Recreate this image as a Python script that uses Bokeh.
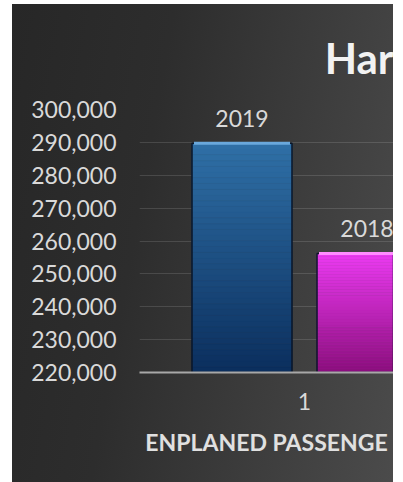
from bokeh.plotting import figure
from bokeh.models import (Range1d, SingleIntervalTicker, NumeralTickFormatter,
                          FixedTicker, InlineStyleSheet)
from bokeh.core.properties import value
from bokeh.embed import file_html
from bokeh.resources import INLINE

# ---- data ----
categories = ["1"]
series_names = ["2019", "2018"]
series_values = [289700, 256200]
series_top_colors = ["#2f6fa6", "#ea3af0"]
series_bottom_colors = ["#0b2f5e", "#8e0f80"]
series_highlight = ["#6aa8dc", "#ff8cff"]
y_start, y_end, y_step = 220000, 300000, 10000
title_text = "Har"
x_label_text = "ENPLANED PASSENGE"

FONT = "Lato"
TXT = "#d9d9d9"

W, H = 381, 478
p = figure(width=W, height=H, output_backend="svg", toolbar_location=None,
           x_range=Range1d(0.34, 1.356), y_range=Range1d(y_start, y_end),
           min_border_left=127, min_border_right=0, min_border_top=105,
           min_border_bottom=110)
p.margin = (4, 0, 0, 12)
p.background_fill_color = None
p.border_fill_color = None
p.outline_line_color = None
p.stylesheets = [InlineStyleSheet(css=":host { background: linear-gradient(100deg, #272727 0%, #2d2d2d 35%, #4b4b4b 100%); }")]

# title
p.title.text = title_text
p.title.align = "right"
p.title.text_font = FONT
p.title.text_font_style = "bold"
p.title.text_font_size = "42px"
p.title.text_color = "#f2f2f2"
p.title.standoff = 53

# bars with vertical gradient built from slices of each bar
offsets = [-0.25, 0.25]
bar_w = 0.4
N = 40

def mix(c1, c2, t):
    a = [int(c1[i:i+2], 16) for i in (1, 3, 5)]
    b = [int(c2[i:i+2], 16) for i in (1, 3, 5)]
    return "#%02x%02x%02x" % tuple(int(round(a[k] + (b[k] - a[k]) * t)) for k in range(3))

for s, (name, v) in enumerate(zip(series_names, series_values)):
    xc = 1 + offsets[s]
    bottoms, tops, cols = [], [], []
    for i in range(N):
        bottoms.append(y_start + (v - y_start) * i / N)
        tops.append(y_start + (v - y_start) * (i + 1) / N)
        cols.append(mix(series_bottom_colors[s], series_top_colors[s], i / (N - 1)))
    p.vbar(x=[xc] * N, width=bar_w, bottom=bottoms, top=tops, fill_color=cols,
           line_color=cols, line_width=0.5)
    p.vbar(x=[xc], width=bar_w, bottom=[y_start], top=[v], fill_color=None,
           line_color="#0a1628", line_width=1.5)
    p.segment(x0=[xc - bar_w / 2 + 0.008], x1=[xc + bar_w / 2 - 0.008], y0=[v], y1=[v],
              line_color=series_highlight[s], line_width=3)

p.text(x=[1 + o for o in offsets], y=series_values, text=series_names,
       text_font=value(FONT), text_font_size=value("23px"), text_color=TXT,
       text_align="center", text_baseline="alphabetic", y_offset=-25)

# axes
p.yaxis.ticker = SingleIntervalTicker(interval=y_step)
p.yaxis.formatter = NumeralTickFormatter(format="0,0")
p.yaxis.axis_line_color = None
p.yaxis.major_tick_out = 0
p.yaxis.major_tick_in = 0
p.yaxis.minor_tick_out = 0
p.yaxis.minor_tick_in = 0
p.yaxis.major_label_standoff = 23
p.yaxis.major_label_text_font = FONT
p.yaxis.major_label_text_font_size = "23px"
p.yaxis.major_label_text_color = TXT

p.xaxis.ticker = FixedTicker(ticks=[1])
p.xaxis.major_label_overrides = {1: categories[0]}
p.xaxis.axis_line_color = "#a8a8a8"
p.xaxis.axis_line_width = 2
p.xaxis.major_tick_out = 0
p.xaxis.major_tick_in = 0
p.xaxis.minor_tick_out = 0
p.xaxis.minor_tick_in = 0
p.xaxis.major_label_standoff = 20
p.xaxis.major_label_text_font = FONT
p.xaxis.major_label_text_font_size = "23px"
p.xaxis.major_label_text_color = TXT
p.xaxis.axis_label = x_label_text
p.xaxis.axis_label_text_font = FONT
p.xaxis.axis_label_text_font_style = "bold"
p.xaxis.axis_label_text_font_size = "23px"
p.xaxis.axis_label_text_color = "#e0e0e0"
p.xaxis.axis_label_standoff = 15

p.xgrid.grid_line_color = None
p.ygrid.grid_line_color = "#ffffff"
p.ygrid.grid_line_alpha = 0.13

open("out.html", "w").write(file_html(p, INLINE))
